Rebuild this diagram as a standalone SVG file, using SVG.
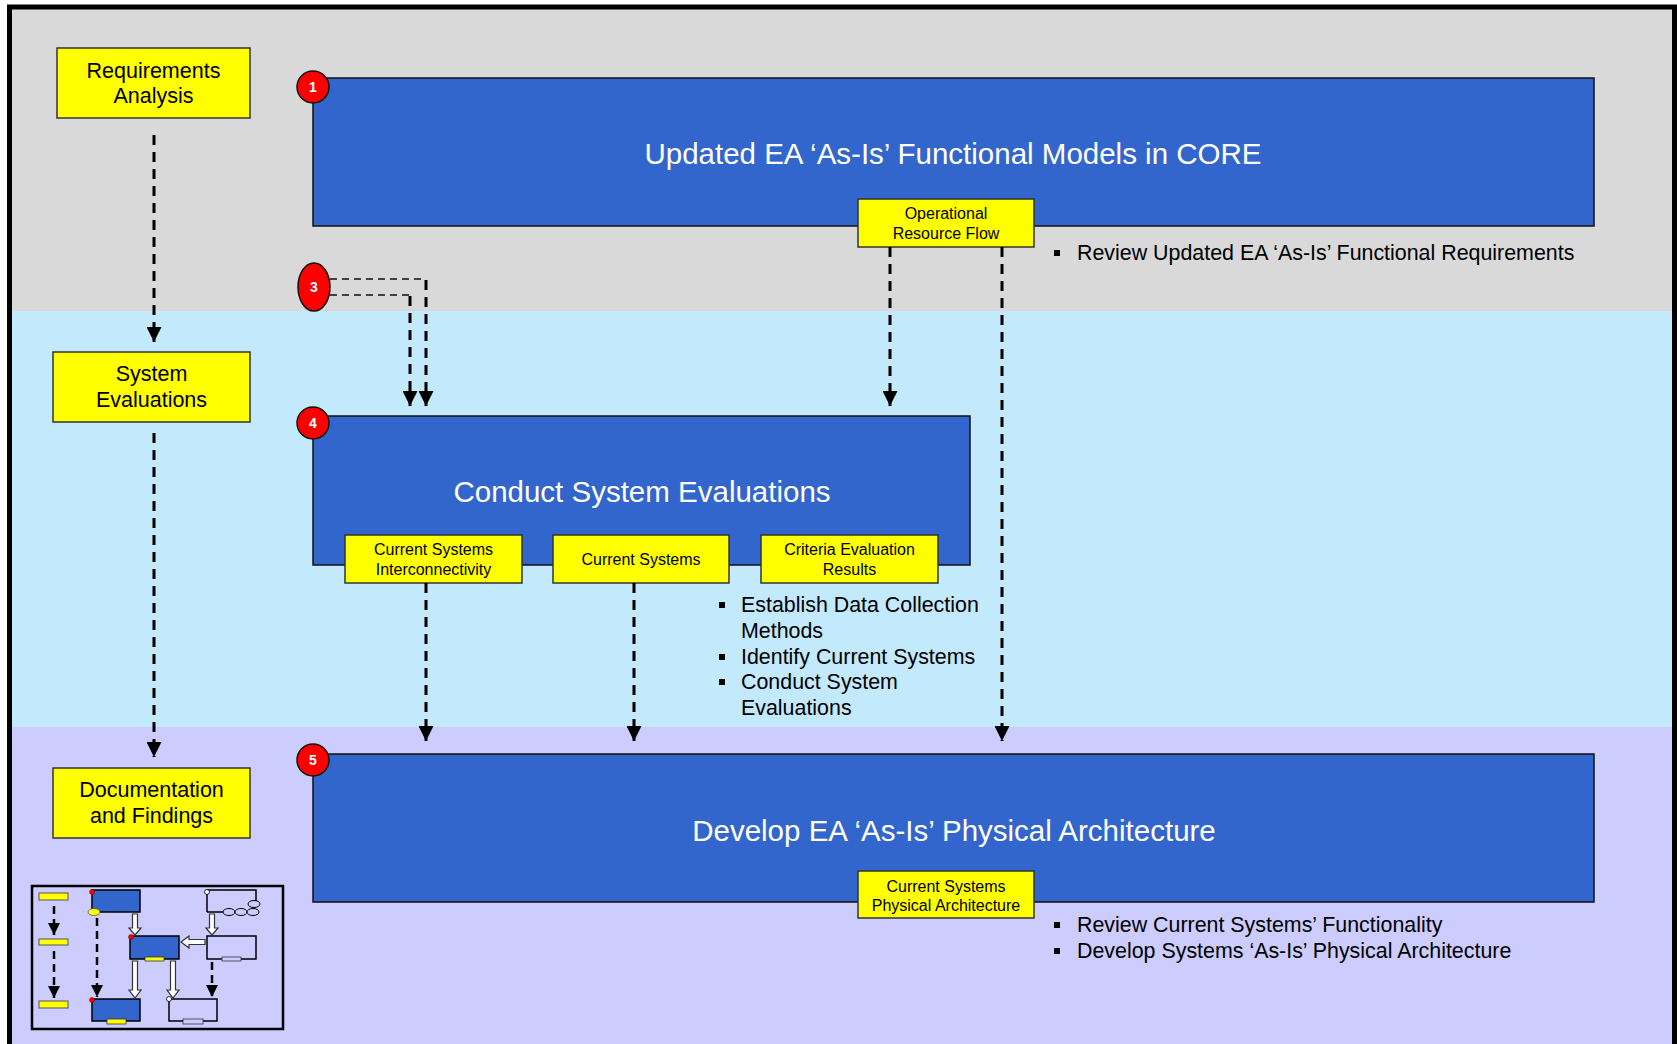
<svg xmlns="http://www.w3.org/2000/svg" width="1677" height="1044" viewBox="0 0 1677 1044">
<defs>
<marker id="ah" markerUnits="userSpaceOnUse" markerWidth="15" markerHeight="15" viewBox="0 0 14 14" refX="14" refY="7" orient="auto"><path d="M0,0 L14,7 L0,14 z" fill="#000"/></marker>
<marker id="ahs" markerUnits="userSpaceOnUse" markerWidth="12" markerHeight="12" viewBox="0 0 10 10" refX="10" refY="5" orient="auto"><path d="M0,0 L10,5 L0,10 z" fill="#000"/></marker>
</defs>
<style>
.ybox{fill:#FFFF00;stroke:#333;stroke-width:1.5}
.bbox{fill:#3366CC;stroke:#111;stroke-width:1.5}
.lbl{font-family:"Liberation Sans",Arial,sans-serif;fill:#000;text-anchor:middle}
.big{font-size:21.5px}
.sm{font-size:16px}
.title{font-family:"Liberation Sans",Arial,sans-serif;font-size:29.5px;fill:#fff;text-anchor:middle}
.num{font-family:"Liberation Sans",Arial,sans-serif;font-size:14px;font-weight:bold;fill:#fff;text-anchor:middle}
.badge{fill:#FF0000;stroke:#111;stroke-width:1.5}
.bul{font-family:"Liberation Sans",Arial,sans-serif;font-size:21.4px;fill:#000}
.dash{fill:none;stroke:#000;stroke-width:3;stroke-dasharray:10 7;marker-end:url(#ah)}
.thin{fill:none;stroke:#404040;stroke-width:2;stroke-dasharray:7 5}
.mdash{fill:none;stroke:#000;stroke-width:2.5;stroke-dasharray:8 5;marker-end:url(#ahs)}
.mini{fill:#3366CC;stroke:#000;stroke-width:1.5}
.miniw{fill:none;stroke:#000;stroke-width:1.5}
.hol{fill:#fff;stroke:#333;stroke-width:1.2}
</style>
<!-- bands -->
<rect x="12" y="9" width="1660" height="302" fill="#D9D9D9"/>
<rect x="12" y="311" width="1660" height="416" fill="#C2E9FC"/>
<rect x="12" y="727" width="1660" height="320" fill="#CCCCFF"/>
<path d="M9.5,1050 V7 H1674.5 V1050" fill="none" stroke="#000" stroke-width="5"/>

<!-- left phase boxes -->
<g id="req-analysis"><rect class="ybox" x="57" y="48" width="193" height="70"/><text class="lbl big" x="153.5" y="78">Requirements</text><text class="lbl big" x="153.5" y="103">Analysis</text></g>
<g id="sys-eval"><rect class="ybox" x="53" y="352" width="197" height="70"/><text class="lbl big" x="151.5" y="381">System</text><text class="lbl big" x="151.5" y="407">Evaluations</text></g>
<g id="doc-findings"><rect class="ybox" x="53" y="768" width="197" height="70"/><text class="lbl big" x="151.5" y="797">Documentation</text><text class="lbl big" x="151.5" y="823">and Findings</text></g>

<!-- step 1 -->
<g id="step1">
<rect class="bbox" x="313" y="78" width="1281" height="148"/>
<text class="title" x="953" y="164">Updated EA ‘As-Is’ Functional Models in CORE</text>
<circle class="badge" cx="313" cy="87" r="16"/><text class="num" x="313" y="92">1</text>
</g>
<g id="op-flow"><rect class="ybox" x="858" y="199" width="176" height="48"/><text class="lbl sm" x="946" y="219">Operational</text><text class="lbl sm" x="946" y="239">Resource Flow</text></g>
<g id="bul1"><rect x="1054" y="250" width="6" height="6" fill="#000"/><text class="bul" x="1077" y="260">Review Updated EA ‘As-Is’ Functional Requirements</text></g>

<!-- step 3 -->
<g id="step3"><ellipse class="badge" cx="314" cy="287" rx="16" ry="24"/><text class="num" x="314" y="292">3</text></g>

<!-- step 4 -->
<g id="step4">
<rect class="bbox" x="313" y="416" width="657" height="149"/>
<text class="title" x="642" y="502">Conduct System Evaluations</text>
<circle class="badge" cx="313" cy="423" r="16"/><text class="num" x="313" y="428">4</text>
</g>
<g id="csi"><rect class="ybox" x="345" y="535" width="177" height="48"/><text class="lbl sm" x="433.5" y="555">Current Systems</text><text class="lbl sm" x="433.5" y="575">Interconnectivity</text></g>
<g id="cs"><rect class="ybox" x="553" y="535" width="176" height="48"/><text class="lbl sm" x="641" y="565">Current Systems</text></g>
<g id="cer"><rect class="ybox" x="761" y="535" width="177" height="48"/><text class="lbl sm" x="849.5" y="555">Criteria Evaluation</text><text class="lbl sm" x="849.5" y="575">Results</text></g>
<g id="bul4">
<rect x="719" y="602" width="6" height="6" fill="#000"/><text class="bul" x="741" y="612">Establish Data Collection</text>
<text class="bul" x="741" y="638">Methods</text>
<rect x="719" y="654" width="6" height="6" fill="#000"/><text class="bul" x="741" y="664">Identify Current Systems</text>
<rect x="719" y="679" width="6" height="6" fill="#000"/><text class="bul" x="741" y="689">Conduct System</text>
<text class="bul" x="741" y="715">Evaluations</text>
</g>

<!-- step 5 -->
<g id="step5">
<rect class="bbox" x="313" y="754" width="1281" height="148"/>
<text class="title" x="954" y="841">Develop EA ‘As-Is’ Physical Architecture</text>
<circle class="badge" cx="313" cy="760" r="16"/><text class="num" x="313" y="765">5</text>
</g>
<g id="cspa"><rect class="ybox" x="858" y="871" width="176" height="47"/><text class="lbl sm" x="946" y="892">Current Systems</text><text class="lbl sm" x="946" y="911">Physical Architecture</text></g>
<g id="bul5">
<rect x="1054" y="922" width="6" height="6" fill="#000"/><text class="bul" x="1077" y="932">Review Current Systems’ Functionality</text>
<rect x="1054" y="948" width="6" height="6" fill="#000"/><text class="bul" x="1077" y="958">Develop Systems ‘As-Is’ Physical Architecture</text>
</g>

<!-- connectors -->
<g id="connectors">
<path class="dash" d="M154,135 V342"/>
<path class="dash" d="M154,433 V757"/>
<path class="thin" d="M330,279 H426"/>
<path class="thin" d="M330,295 H410"/>
<path class="dash" d="M426,280 V406"/>
<path class="dash" d="M410,296 V406"/>
<path class="dash" d="M890,247 V406"/>
<path class="dash" d="M1002,247 V741"/>
<path class="dash" d="M426,583 V741"/>
<path class="dash" d="M634,583 V741"/>
</g>

<!-- inset legend -->
<g id="inset">
<rect x="32" y="886" width="251" height="143" fill="none" stroke="#000" stroke-width="2.5"/>
<rect x="39" y="893" width="29" height="7" fill="#FFFF00" stroke="#555" stroke-width="1"/>
<rect x="39" y="939" width="29" height="6" fill="#FFFF00" stroke="#555" stroke-width="1"/>
<rect x="39" y="1001" width="29" height="7" fill="#FFFF00" stroke="#555" stroke-width="1"/>
<path class="mdash" d="M54,906 V935"/>
<path class="mdash" d="M54,951 V998"/>
<rect class="mini" x="92" y="890" width="48" height="22"/>
<circle cx="92" cy="892" r="2.5" fill="#FF0000" stroke="#600" stroke-width="0.5"/>
<path class="mdash" d="M97,918 V997"/>
<ellipse cx="94" cy="912" rx="6" ry="3.5" fill="#FFFF00" stroke="#555" stroke-width="0.8"/>
<rect class="mini" x="130" y="936" width="49" height="23"/>
<circle cx="131" cy="937" r="2.5" fill="#FF0000" stroke="#600" stroke-width="0.5"/>
<rect x="145" y="957" width="19" height="4" fill="#FFFF00" stroke="#333" stroke-width="0.8"/>
<rect class="mini" x="92" y="999" width="48" height="22"/>
<circle cx="92" cy="1000" r="2.5" fill="#FF0000" stroke="#600" stroke-width="0.5"/>
<rect x="107" y="1019" width="19" height="5" fill="#FFFF00" stroke="#333" stroke-width="0.8"/>
<path class="miniw" d="M207,912 V890 H256 V902"/>
<path class="miniw" d="M207,912 H224"/>
<ellipse cx="229" cy="912" rx="6" ry="3.5" fill="#CCCCFF" stroke="#000" stroke-width="1"/>
<ellipse cx="241" cy="912" rx="6" ry="3.5" fill="#CCCCFF" stroke="#000" stroke-width="1"/>
<ellipse cx="253" cy="912" rx="6" ry="3.5" fill="#CCCCFF" stroke="#000" stroke-width="1"/>
<ellipse cx="254" cy="904" rx="6" ry="3.5" fill="#CCCCFF" stroke="#000" stroke-width="1"/>
<circle cx="207" cy="892" r="2.5" fill="#fff" stroke="#000" stroke-width="0.8"/>
<rect class="miniw" x="207" y="936" width="49" height="23"/>
<rect x="222" y="957" width="19" height="4" fill="#CCCCFF" stroke="#333" stroke-width="0.8"/>
<rect class="miniw" x="169" y="999" width="48" height="22"/>
<circle cx="169" cy="999" r="2.5" fill="#fff" stroke="#000" stroke-width="0.8"/>
<rect x="183" y="1019" width="20" height="5" fill="#CCCCFF" stroke="#333" stroke-width="0.8"/>
<path class="hol" d="M132.5,914 H137.5 V928 H141 L135,935 L129,928 H132.5 Z"/>
<path class="hol" d="M209.5,914 H214.5 V928 H218 L212,935 L206,928 H209.5 Z"/>
<path class="hol" d="M205,939.5 H189 V936 L181,942 L189,948 V944.5 H205 Z"/>
<path class="hol" d="M132.5,961 H137.5 V990 H141 L135,998 L129,990 H132.5 Z"/>
<path class="hol" d="M170.5,961 H175.5 V990 H179 L173,998 L167,990 H170.5 Z"/>
<path class="mdash" d="M212,962 V997"/>
</g>
</svg>
